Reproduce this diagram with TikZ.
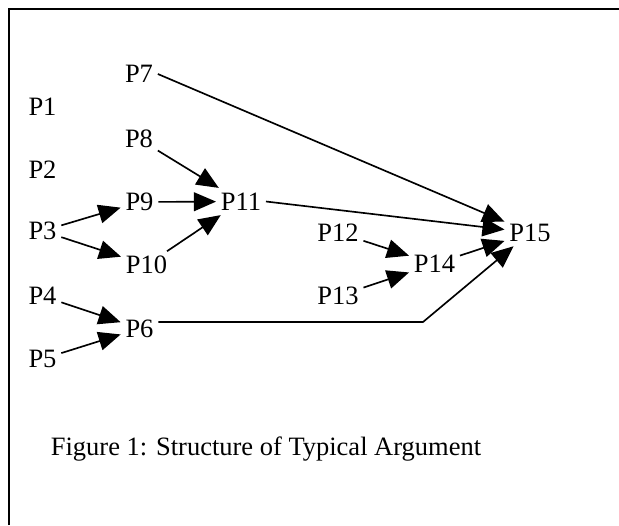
\documentclass[tikz,border=0pt]{standalone}
\usepackage{fontspec}
\setmainfont{Liberation Serif}
\usepackage{tikz}
\usetikzlibrary{arrows.meta}
\tikzset{
    premissa/.style={
        inner sep=2pt,
        font=\fontsize{12}{14}\selectfont
    },
    legenda/.style={inner sep=0pt, font=\fontsize{12}{14}\selectfont},
    fluxo/.style={-{Triangle[length=10pt,width=8.5pt]}, line width=0.75pt},
    moldura/.style={line width=1pt}
}

\begin{document}
\begin{tikzpicture}[x=0.453pt, y=-0.453pt]
        \useasboundingbox (0,0) rectangle (619,525);
        \draw[moldura] (9,525) |- (619,9);

        % coluna da esquerda
        \node[premissa] (p1) at (42.5,107) {P1};
        \node[premissa] (p2) at (42.5,170) {P2};
        \node[premissa] (p3) at (42.5,231) {P3};
        \node[premissa] (p4) at (42.5,296) {P4};
        \node[premissa] (p5) at (42.5,359) {P5};

        % segunda coluna
        \node[premissa] (p7) at (139,74) {P7};
        \node[premissa] (p8) at (139,139) {P8};
        \node[premissa] (p9) at (139.5,202) {P9};
        \node[premissa] (p10) at (146.5,265) {P10};
        \node[premissa] (p6) at (139.5,328.5) {P6};

        \node[premissa] (p11) at (241,201.5) {P11};
        \node[premissa] (p12) at (338,232.5) {P12};
        \node[premissa] (p13) at (338,296) {P13};
        \node[premissa] (p14) at (434.5,264) {P14};
        \node[premissa] (p15) at (530,232.5) {P15};

        \coordinate (dobra) at (423,322);

        \node[legenda, anchor=base] (titulo) at (266,455)
            {Figure 1: Structure of Typical Argument};

        \draw[fluxo] (p3) -- (p9);
        \draw[fluxo] (p3) -- (p10);
        \draw[fluxo] (p4) -- (p6);
        \draw[fluxo] (p5) -- (p6);
        \draw[fluxo] (p8) -- (p11);
        \draw[fluxo] (p9) -- (p11);
        \draw[fluxo] (p10) -- (p11);
        \draw[fluxo] (p12) -- (p14);
        \draw[fluxo] (p13) -- (p14);
        \draw[fluxo] (p7.east) -- (p15);
        \draw[fluxo] (p11.east) -- (p15);
        \draw[fluxo] (p14) -- (p15);
        \draw[fluxo] (p6.east |- dobra) -- (dobra) -- (p15);
    \end{tikzpicture}
\end{document}
